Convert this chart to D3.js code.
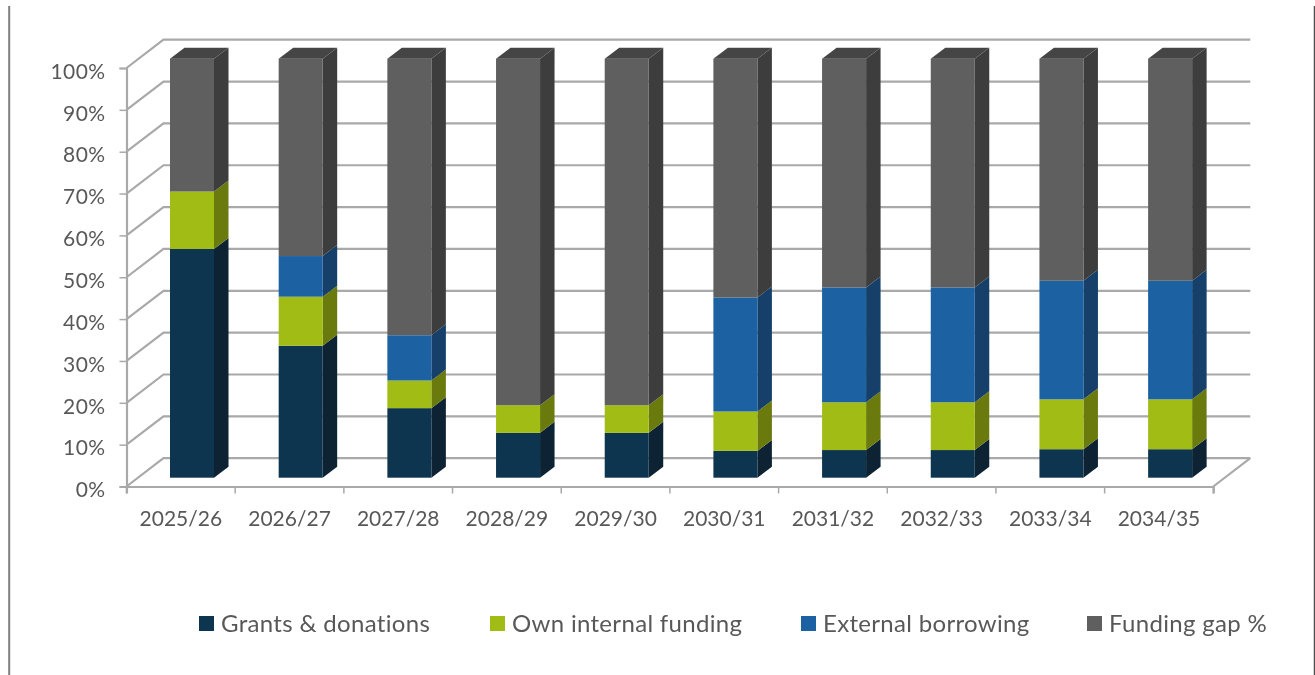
<!DOCTYPE html>
<html><head><meta charset="utf-8">
<script src="https://cdn.jsdelivr.net/npm/d3@7"></script>
<style>
html,body{margin:0;padding:0;background:#fff;overflow:hidden}
svg{display:block}
text{font-family:Lato,"Open Sans",sans-serif;fill:#595959}
</style></head><body>
<script>
const categories=["2025/26","2026/27","2027/28","2028/29","2029/30","2030/31","2031/32","2032/33","2033/34","2034/35"];
const grants=[54.6,31.5,16.6,10.7,10.7,6.4,6.6,6.6,6.8,6.8];
const ownFunding=[13.7,11.7,6.6,6.6,6.6,9.4,11.4,11.4,11.9,11.9];
const borrowing=[0,9.7,10.8,0,0,27.2,27.4,27.4,28.3,28.3];
const fundingGap=[31.7,47.1,66,82.7,82.7,57,54.6,54.6,53,53];
const seriesNames=["Grants & donations","Own internal funding","External borrowing","Funding gap %"];
const seriesValues=[grants,ownFunding,borrowing,fundingGap];
const frontColors=["#10364f","#a2bc17","#1a62a3","#5f5f5f"];
const sideColors=["#0a2233","#6b7a10","#123f6a","#3e3e3e"];
const topColor="#444444";
const yTicks=[0,10,20,30,40,50,60,70,80,90,100];
const legendX=[199,490,801,1087];

const W=1315,H=675;
const svg=d3.select("body").append("svg").attr("width",W).attr("height",H);
const soft=svg.append("defs").append("filter").attr("id","soft")
  .attr("x",0).attr("y",0).attr("width",W).attr("height",H).attr("filterUnits","userSpaceOnUse");
soft.append("feGaussianBlur").attr("stdDeviation",0.4);
const root=svg.append("g").attr("filter","url(#soft)");
const gridColor="#a9a9a9";
const wallDx=37,wallDy=-28.3;
const y=d3.scaleLinear().domain([0,100]).range([486.5,68]);
const barY=d3.scaleLinear().domain([0,100]).range([477.7,58.7]);
const x=d3.scaleBand().domain(categories).range([126.5,1213.3]);
const barW=44,barOff=43.5,depthX=14.5,depthY=-11;

// frame
root.append("line").attr("x1",9.2).attr("x2",9.2).attr("y1",6).attr("y2",H).attr("stroke","#7f7f7f").attr("stroke-width",2);
root.append("line").attr("x1",1314.3).attr("x2",1314.3).attr("y1",6).attr("y2",H).attr("stroke","#222").attr("stroke-width",1);

// walls
const grid=root.append("g").attr("fill","none").attr("stroke",gridColor).attr("stroke-width",2.2);
grid.selectAll("path").data(yTicks).join("path")
  .attr("d",d=>`M${x.range()[0]},${y(d)}L${x.range()[0]+wallDx},${y(d)+wallDy}L${x.range()[1]+wallDx},${y(d)+wallDy}`);
grid.append("path").attr("d",`M${x.range()[1]},${y(0)}L${x.range()[1]+wallDx},${y(0)+wallDy}`);

// axes
const axisL=root.append("g").attr("transform",`translate(${x.range()[0]},0)`)
  .call(d3.axisLeft(y).tickValues(yTicks).tickFormat(d=>d+"%").tickSize(7).tickPadding(14));
const axisB=root.append("g").attr("transform",`translate(0,${y(0)})`)
  .call(d3.axisBottom(x).tickSize(7).tickPadding(18));
axisB.selectAll(".tick line").remove();
const edges=x.domain().map(c=>x(c)).concat([x.range()[1]]);
axisB.selectAll("line.edge").data(edges).join("line").attr("class","edge")
  .attr("x1",d=>d).attr("x2",d=>d).attr("y1",0).attr("y2",7);
[axisL,axisB].forEach(a=>{
  a.selectAll("path.domain").attr("stroke",gridColor).attr("stroke-width",2.2);
  a.selectAll("line").attr("stroke",gridColor).attr("stroke-width",1.5);
  a.selectAll("text").style("font-size","21px").attr("fill","#595959");
});
axisL.selectAll("text").attr("dy","0.49em").style("letter-spacing","0.4px");

// bars
const stack=categories.map((c,i)=>{let t=0;return seriesValues.map((s,k)=>{const o={c,k,v:s[i],y0:t,y1:t+s[i]};t+=s[i];return o;});});
const bars=root.append("g").selectAll("g").data(stack).join("g");
bars.each(function(segs){
  const g=d3.select(this);
  const live=segs.filter(s=>s.v>0);
  live.forEach(s=>{
    const l=x(s.c)+barOff,r=l+barW,t=barY(s.y1),b=barY(s.y0);
    g.append("path").attr("fill",sideColors[s.k])
      .attr("d",`M${r},${b}L${r+depthX},${b+depthY}L${r+depthX},${t+depthY}L${r},${t}Z`);
    g.append("rect").attr("x",l).attr("y",t).attr("width",barW).attr("height",b-t).attr("fill",frontColors[s.k]);
  });
  const top=live[live.length-1];
  const l=x(top.c)+barOff,r=l+barW,t=barY(top.y1);
  g.append("path").attr("fill",topColor)
    .attr("d",`M${l},${t}L${l+depthX},${t+depthY}L${r+depthX},${t+depthY}L${r},${t}Z`);
});

// legend
const leg=root.append("g").selectAll("g").data(seriesNames).join("g")
  .attr("transform",(d,i)=>`translate(${legendX[i]},616)`);
leg.append("rect").attr("width",15).attr("height",15).attr("fill",(d,i)=>frontColors[i]);
leg.append("text").attr("x",22).attr("y",16).text(d=>d).style("font-size","24px").style("letter-spacing","0.32px");
</script>
</body></html>
